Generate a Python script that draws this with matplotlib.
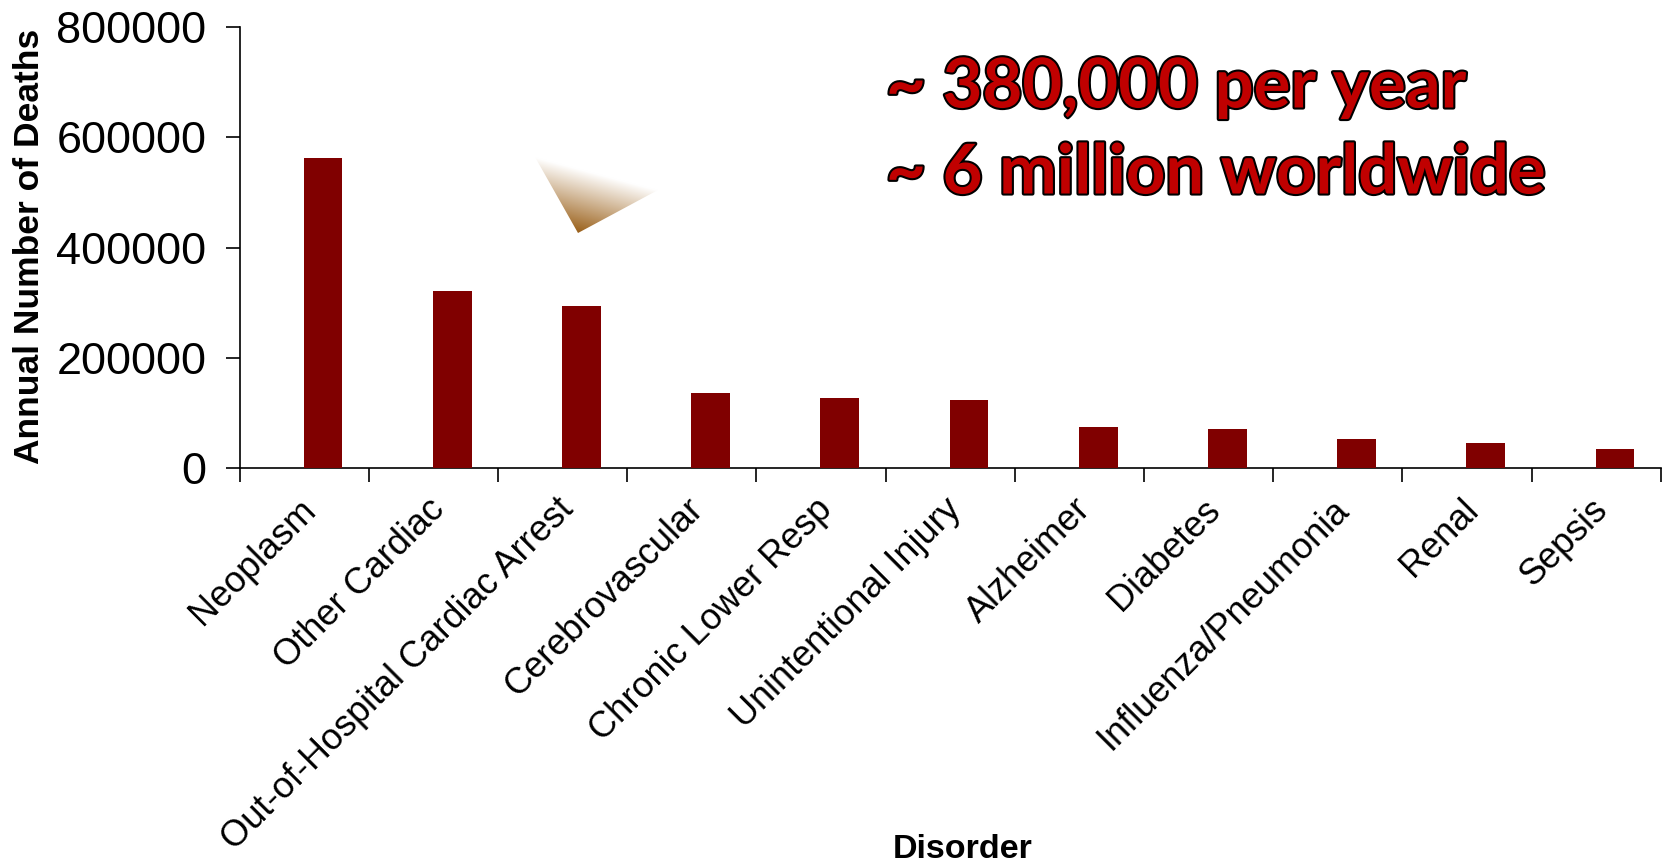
import numpy as np
import matplotlib
matplotlib.use('Agg')
import matplotlib.pyplot as plt
import matplotlib.patheffects as pe
from matplotlib.patches import Polygon

# data
disorders = ['Neoplasm', 'Other Cardiac', 'Out-of-Hospital Cardiac Arrest',
             'Cerebrovascular', 'Chronic Lower Resp', 'Unintentional Injury',
             'Alzheimer', 'Diabetes', 'Influenza/Pneumonia', 'Renal', 'Sepsis']
deaths = [563000, 321000, 295000, 136000, 128000, 124000,
          75000, 71000, 53000, 46000, 35000]
yticks = [0, 200000, 400000, 600000, 800000]
note_lines = ['~ 380,000 per year', '~ 6 million worldwide']

plt.rcParams['font.family'] = ['Liberation Sans', 'DejaVu Sans']

W, H = 1677, 865
fig = plt.figure(figsize=(W / 100, H / 100), dpi=100)
ax = fig.add_axes([0.1429, 0.4585, 0.8475, 0.5105])

x = np.arange(len(disorders))
ax.bar(x + 0.645, deaths, width=0.3, color='#800000', zorder=3)
ax.set_xlim(0, len(disorders))
ax.set_ylim(0, 800000)

ax.set_yticks(yticks)
ax.set_yticklabels([str(v) for v in yticks], fontsize=32.5)
ax.set_xticks(np.arange(len(disorders) + 1))
ax.set_xticklabels([])
ax.set_xticks(x + 0.64, minor=True)
ax.set_xticklabels(disorders, minor=True, rotation=45, ha='right', fontsize=26)
ax.tick_params(axis='x', which='minor', length=0, pad=17)
ax.tick_params(axis='x', which='major', length=10, width=1.2, direction='out')
ax.tick_params(axis='y', length=10, width=1.2, pad=14)
for s in ['top', 'right']:
    ax.spines[s].set_visible(False)
for s in ['left', 'bottom']:
    ax.spines[s].set_linewidth(1.2)

fig.text(30 / W, 1 - 246 / H, 'Annual Number of Deaths', rotation=90,
         ha='center', va='center', fontsize=25.5, fontweight='bold')
fig.text(963 / W, 1 - 850 / H, 'Disorder', ha='center', va='center',
         fontsize=24.5, fontweight='bold')

# overlay in pixel coords for the decorations
ov = fig.add_axes([0, 0, 1, 1], zorder=5)
ov.set_xlim(0, W)
ov.set_ylim(H, 0)
ov.axis('off')
ov.patch.set_alpha(0)

# gradient triangle
a = np.array([535.0, 157.0])
b = np.array([658.0, 190.0])
c = np.array([578.0, 233.0])
n = np.array([-(b - a)[1], (b - a)[0]])
gx, gy = np.meshgrid(np.arange(530, 665), np.arange(150, 240))
t = ((gx - a[0]) * n[0] + (gy - a[1]) * n[1]) / np.dot(c - a, n)
t = np.clip(t, 0, 1)[..., None]
brown = np.array([0.60, 0.37, 0.09])
img = (1 - t) * np.ones(3) + t * brown
tri = Polygon([a, b, c], closed=True, transform=ov.transData, facecolor='none', edgecolor='none')
ov.add_patch(tri)
im = ov.imshow(img, extent=[530, 665, 240, 150], aspect='auto', interpolation='bilinear')
im.set_clip_path(tri)
ov.set_xlim(0, W)
ov.set_ylim(H, 0)

outline = [pe.withStroke(linewidth=3, foreground='black')]
fig.text(886 / W, 1 - 88 / H, note_lines[0], fontsize=49.5, fontweight='bold',
         family=['Lato', 'DejaVu Sans'], color='#C00000', ha='left', va='center',
         path_effects=outline)
fig.text(886 / W, 1 - 174 / H, note_lines[1], fontsize=49.5, fontweight='bold',
         family=['Lato', 'DejaVu Sans'], color='#C00000', ha='left', va='center',
         path_effects=outline)

fig.savefig('out.png', dpi=100)
